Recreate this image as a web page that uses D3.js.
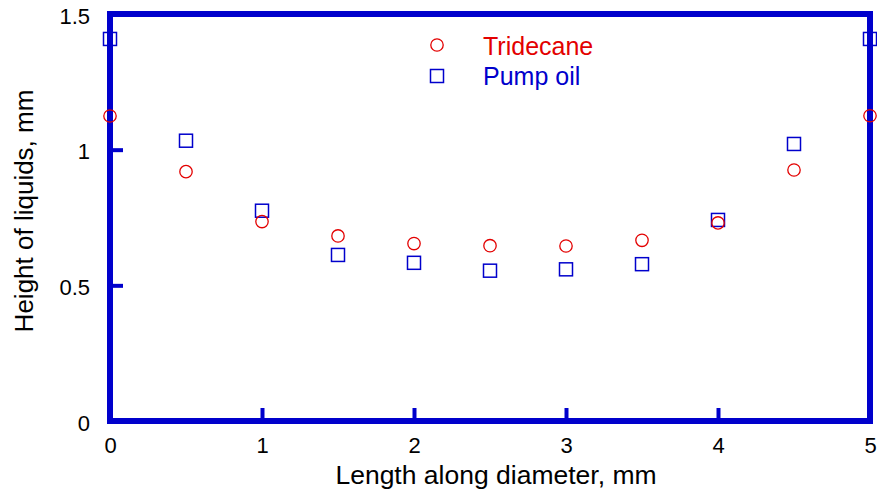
<!DOCTYPE html>
<html>
<head>
<meta charset="utf-8">
<script src="https://cdn.jsdelivr.net/npm/d3@7/dist/d3.min.js"></script>
<style>
html,body{margin:0;padding:0;background:#fff;}
text{font-family:"Liberation Sans",Arial,sans-serif;}
</style>
</head>
<body>
<svg id="chart" width="877" height="495"></svg>
<script>
const xPositions = [0, 0.5, 1, 1.5, 2, 2.5, 3, 3.5, 4, 4.5, 5];
const tridecane = [1.124, 0.919, 0.735, 0.682, 0.654, 0.646, 0.645, 0.666, 0.730, 0.925, 1.125];
const pumpOil   = [1.408, 1.033, 0.775, 0.612, 0.583, 0.554, 0.559, 0.578, 0.741, 1.021, 1.408];
const xTickValues = [0, 1, 2, 3, 4, 5];
const yTickValues = [0, 0.5, 1, 1.5];
const seriesNames = ["Tridecane", "Pump oil"];

(function () {
const svg = d3.select("#chart");
const blue = "#0000cc", red = "#e30000";
const mL = 110, mR = 870, mT = 14, mB = 421;
const x = d3.scaleLinear().domain([0, 5]).range([mL, mR]);
const y = d3.scaleLinear().domain([0, 1.5]).range([mB, mT]);

// inward ticks (no labels) on bottom and left
const xTickAxis = d3.axisTop(x).tickValues([1, 2, 3, 4]).tickSize(13).tickFormat("");
const gxt = svg.append("g").attr("transform", `translate(0,${mB})`).call(xTickAxis);
const yTickAxis = d3.axisRight(y).tickValues([0.5, 1]).tickSize(13).tickFormat("");
const gyt = svg.append("g").attr("transform", `translate(${mL},0)`).call(yTickAxis);
[gxt, gyt].forEach(g => {
  g.select(".domain").remove();
  g.selectAll(".tick line").attr("stroke", blue).attr("stroke-width", 4);
});

// tick labels through axes
const xLab = d3.axisBottom(x).tickValues(xTickValues).tickSize(0).tickPadding(0).tickFormat(d3.format("d"));
const gx = svg.append("g").attr("transform", `translate(0,${mB})`).call(xLab);
gx.select(".domain").remove();
gx.selectAll(".tick text").attr("y", 32).attr("dy", 0).attr("font-size", 22).attr("fill", "#000")
  .attr("font-family", "Liberation Sans, Arial, sans-serif");

const yLab = d3.axisLeft(y).tickValues(yTickValues).tickSize(0).tickPadding(0).tickFormat(d => d3.format("")(d));
const gy = svg.append("g").attr("transform", `translate(${mL},0)`).call(yLab);
gy.select(".domain").remove();
gy.selectAll(".tick text").attr("x", -20).attr("dy", "0.42em").attr("font-size", 22).attr("fill", "#000")
  .attr("font-family", "Liberation Sans, Arial, sans-serif");

// frame
svg.append("rect").attr("x", mL).attr("y", mT).attr("width", mR - mL).attr("height", mB - mT)
  .attr("fill", "none").attr("stroke", blue).attr("stroke-width", 6);

// axis titles
svg.append("text").attr("x", 496).attr("y", 484).attr("text-anchor", "middle").attr("font-size", 26.5)
  .attr("fill", "#000").text("Length along diameter, mm");
svg.append("text").attr("transform", "translate(33,211) rotate(-90)").attr("text-anchor", "middle")
  .attr("font-size", 26).attr("fill", "#000").text("Height of liquids, mm");

// markers
const trid = xPositions.map((v, i) => ({x: v, y: tridecane[i]}));
const pump = xPositions.map((v, i) => ({x: v, y: pumpOil[i]}));
svg.append("g").selectAll("rect").data(pump).join("rect")
  .attr("x", d => x(d.x) - 6.5).attr("y", d => y(d.y) - 6.5).attr("width", 13).attr("height", 13)
  .attr("fill", "none").attr("stroke", blue).attr("stroke-width", 1.5);
svg.append("g").selectAll("circle").data(trid).join("circle")
  .attr("cx", d => x(d.x)).attr("cy", d => y(d.y)).attr("r", 6.2)
  .attr("fill", "none").attr("stroke", red).attr("stroke-width", 1.3);

// legend
const lg = svg.append("g");
lg.append("circle").attr("cx", 437).attr("cy", 45).attr("r", 6.2).attr("fill", "none").attr("stroke", red).attr("stroke-width", 1.3);
lg.append("rect").attr("x", 437 - 6.5).attr("y", 76 - 6.5).attr("width", 13).attr("height", 13).attr("fill", "none").attr("stroke", blue).attr("stroke-width", 1.5);
lg.append("text").attr("x", 483).attr("y", 55).attr("font-size", 25).attr("fill", red).text(seriesNames[0]);
lg.append("text").attr("x", 483).attr("y", 85).attr("font-size", 25).attr("fill", blue).text(seriesNames[1]);
})();
</script>
</body>
</html>
